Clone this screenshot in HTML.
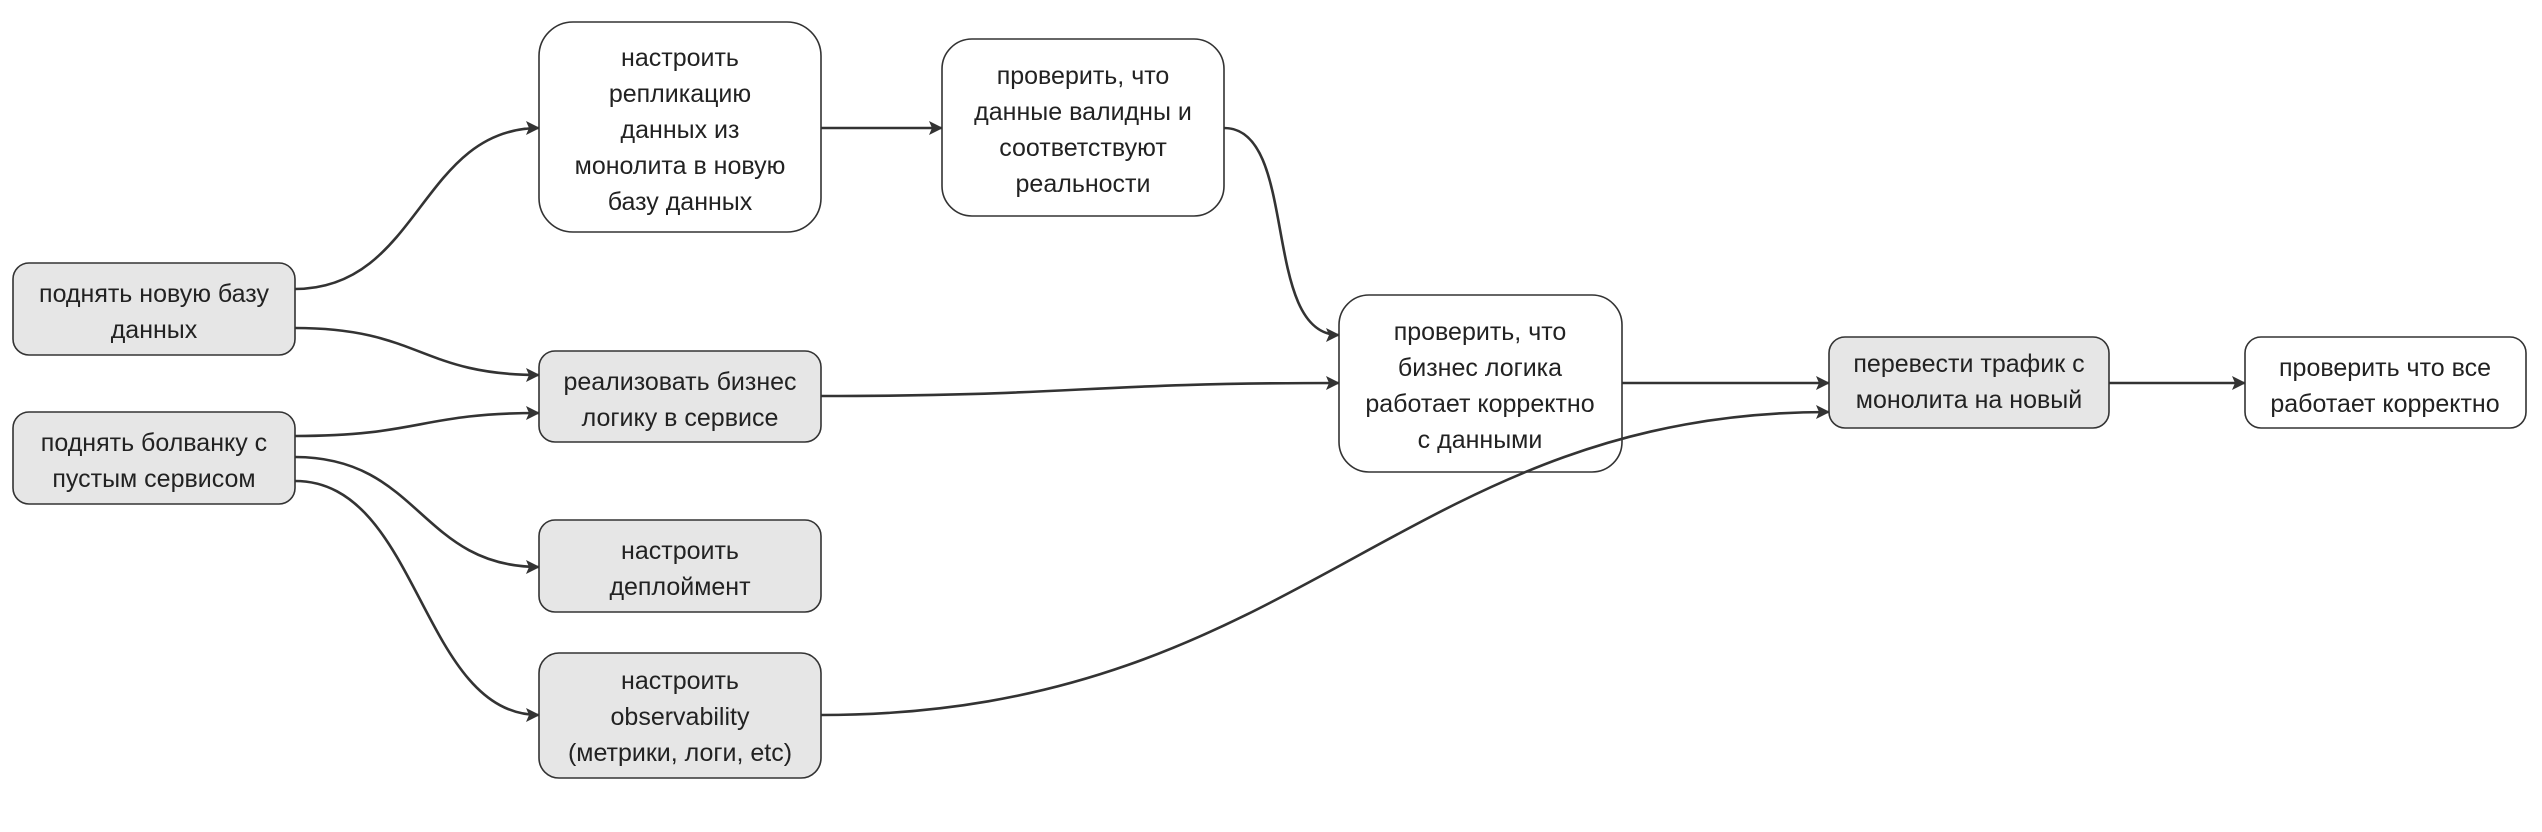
<!DOCTYPE html>
<html><head><meta charset="utf-8"><style>
html,body{margin:0;padding:0;background:#fff;}
svg{display:block}
text{font-family:"Liberation Sans","DejaVu Sans",sans-serif;font-size:25px;fill:#222;text-anchor:middle}
.b{stroke:#333;stroke-width:1.6}
.g{fill:#e6e6e6}.w{fill:#fff}
path.e{fill:none;stroke:#333;stroke-width:2.6}
</style></head><body>
<svg width="2542" height="832" viewBox="0 0 2542 832" xmlns="http://www.w3.org/2000/svg">
<defs><marker id="a" markerWidth="14" markerHeight="14" refX="13" refY="7" orient="auto" markerUnits="userSpaceOnUse"><path d="M0,0 L14,7 L0,14 L3,7 z" fill="#333"/></marker></defs>
<path class="e" marker-end="url(#a)" d="M295 289 C420 289, 420 128, 539 128"/>
<path class="e" marker-end="url(#a)" d="M295 328 C420 328, 420 375, 539 375"/>
<path class="e" marker-end="url(#a)" d="M295 436 C420 436, 420 413, 539 413"/>
<path class="e" marker-end="url(#a)" d="M295 457 C420 457, 420 567, 539 567"/>
<path class="e" marker-end="url(#a)" d="M295 481 C420 481, 420 715, 539 715"/>
<path class="e" marker-end="url(#a)" d="M821 128 L942 128"/>
<path class="e" marker-end="url(#a)" d="M1224 128 C1300 128, 1260 335, 1339 335"/>
<path class="e" marker-end="url(#a)" d="M821 396 C1080 396, 1080 383, 1339 383"/>
<path class="e" marker-end="url(#a)" d="M1622 383 L1829 383"/>
<path class="e" marker-end="url(#a)" d="M2109 383 L2245 383"/>

<rect class="b g" x="13" y="263" width="282" height="92" rx="16"/>
<text x="154" y="302">поднять новую базу</text><text x="154" y="338">данных</text>
<rect class="b g" x="13" y="412" width="282" height="92" rx="16"/>
<text x="154" y="451">поднять болванку с</text><text x="154" y="487">пустым сервисом</text>
<rect class="b w" x="539" y="22" width="282" height="210" rx="34"/>
<text x="680" y="66">настроить</text><text x="680" y="102">репликацию</text><text x="680" y="138">данных из</text><text x="680" y="174">монолита в новую</text><text x="680" y="210">базу данных</text>
<rect class="b g" x="539" y="351" width="282" height="91" rx="16"/>
<text x="680" y="390">реализовать бизнес</text><text x="680" y="426">логику в сервисе</text>
<rect class="b g" x="539" y="520" width="282" height="92" rx="16"/>
<text x="680" y="559">настроить</text><text x="680" y="595">деплоймент</text>
<rect class="b g" x="539" y="653" width="282" height="125" rx="20"/>
<text x="680" y="689">настроить</text><text x="680" y="725">observability</text><text x="680" y="761">(метрики, логи, etc)</text>
<rect class="b w" x="942" y="39" width="282" height="177" rx="30"/>
<text x="1083" y="84">проверить, что</text><text x="1083" y="120">данные валидны и</text><text x="1083" y="156">соответствуют</text><text x="1083" y="192">реальности</text>
<rect class="b w" x="1339" y="295" width="283" height="177" rx="30"/>
<text x="1480" y="340">проверить, что</text><text x="1480" y="376">бизнес логика</text><text x="1480" y="412">работает корректно</text><text x="1480" y="448">с данными</text>
<rect class="b g" x="1829" y="337" width="280" height="91" rx="16"/>
<text x="1969" y="372">перевести трафик с</text><text x="1969" y="408">монолита на новый</text>
<rect class="b w" x="2245" y="337" width="281" height="91" rx="16"/>
<text x="2385" y="376">проверить что все</text><text x="2385" y="412">работает корректно</text>
<path class="e" marker-end="url(#a)" d="M821 715 C1300 715, 1400 412, 1829 412"/>
</svg>
</body></html>
